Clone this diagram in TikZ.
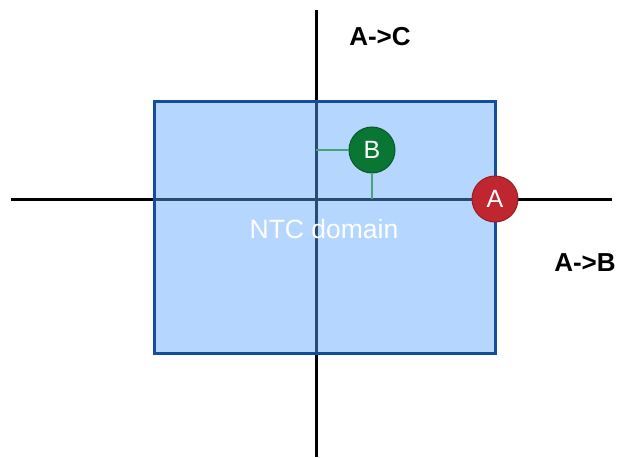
\documentclass[tikz,border=0pt]{standalone}
\usepackage{fontspec}
\setmainfont{Liberation Sans}
\begin{document}
\begin{tikzpicture}[x=1pt,y=-1pt,
  axis/.style={line width=3pt,black},
  ntcbox/.style={draw=domborder,line width=3pt,fill=domfill,fill opacity=0.45},
  pt/.style={circle,minimum size=46pt,inner sep=0pt,text=white,font=\fontsize{25}{28}\selectfont,line width=1pt},
  lbl/.style={font=\bfseries\fontsize{26}{30}\selectfont,text=black},
  guide/.style={line width=1.2pt,draw=guidegreen}
]
\definecolor{domborder}{RGB}{20,78,155}
\definecolor{domfill}{RGB}{90,165,255}
\definecolor{guidegreen}{RGB}{70,165,115}
\definecolor{bgreen}{RGB}{10,118,52}
\definecolor{bgreenb}{RGB}{8,90,40}
\definecolor{ared}{RGB}{192,38,48}
\definecolor{aredb}{RGB}{150,30,38}
\useasboundingbox (0,0) rectangle (628,457);
\coordinate (vt) at (316,10);
\coordinate (vb) at (316,457);
\coordinate (hl) at (11,199);
\coordinate (hr) at (612,199);
\draw[axis] (vt) -- (vb);
\draw[axis] (hl) -- (hr);
\draw[ntcbox] (154,102) rectangle (495,353);
\node[text=white,font=\fontsize{26.5}{30}\selectfont] (ntc) at (324,229) {NTC domain};
\node[pt,fill=bgreen,draw=bgreenb] (B) at (372,150) {B};
\node[pt,fill=ared,draw=aredb] (A) at (495,199) {A};
\coordinate (bx) at (316,150);
\coordinate (by) at (372,199);
\draw[guide] (B.west) -- (bx);
\draw[guide] (B.south) -- (by);
\node[lbl] (ac) at (380,37) {A->C};
\node[lbl] (ab) at (585,263) {A->B};
\end{tikzpicture}
\end{document}
